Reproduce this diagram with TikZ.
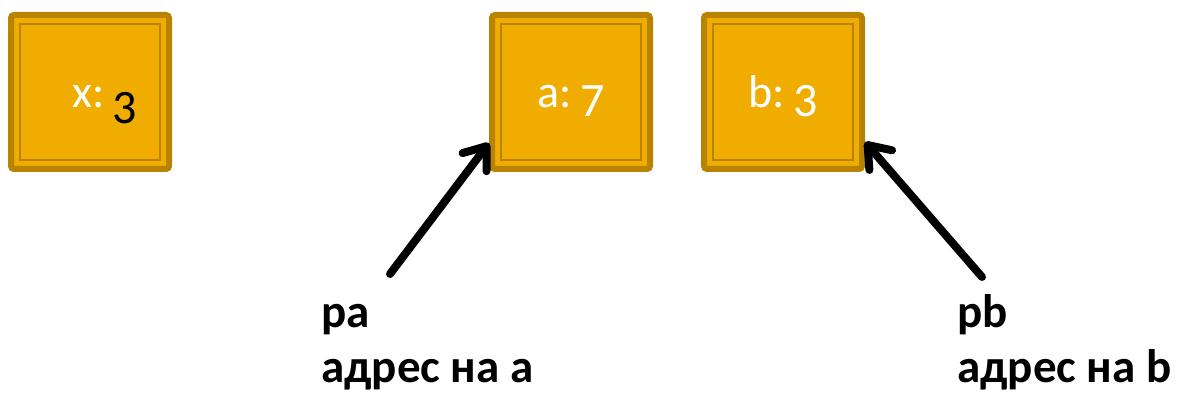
\documentclass[tikz,border=0pt]{standalone}
\usepackage{fontspec}
\setmainfont{Carlito}
\usetikzlibrary{arrows.meta}
\definecolor{cellfill}{RGB}{240,173,0}
\definecolor{cellline}{RGB}{184,131,0}
\begin{document}
\begin{tikzpicture}[x=1pt,y=1pt,
    cell/.style={draw=cellline,fill=cellfill,line width=6pt,rounded corners=3pt,
      minimum width=158pt,minimum height=154pt,inner sep=0pt,
      text height=32pt,text depth=0pt,text=white,font=\fontsize{46}{46}\selectfont,
      path picture={\draw[cellline,line width=1.2pt,sharp corners]
        ([shift={(9pt,-9pt)}]path picture bounding box.north west) rectangle
        ([shift={(-9pt,9pt)}]path picture bounding box.south east);}},
    pointer/.style={line width=8pt,line cap=round,-{Straight Barb[length=20pt,width=30pt,round]}},
    addr/.style={font=\bfseries\fontsize{47}{55}\selectfont,align=left,inner sep=0pt,anchor=north west}]
  \useasboundingbox (0,0) rectangle (1181,395);
  \node[cell] (x) at (90,303) {\hspace{30pt}x:\hspace{8pt}\raisebox{-16pt}{\color{black}\fontsize{48}{48}\selectfont 3}};
  \node[cell] (a) at (571,303) {a:\hspace{8pt}\raisebox{-9pt}{\fontsize{48}{48}\selectfont 7}};
  \node[cell] (b) at (783,303) {b:\hspace{8pt}\raisebox{-9pt}{\fontsize{48}{48}\selectfont 3}};
  \node[addr] (pa) at (321,106) {\strut pa\\адрес на a};
  \node[addr] (pb) at (957,106) {\strut pb\\адрес на b};
  \coordinate (pa tail) at (390,121);
  \coordinate (pb tail) at (982,118);
  \draw[pointer] (pa tail) -- ([yshift=29pt]a.south west);
  \draw[pointer] (pb tail) -- ([yshift=30pt]b.south east);
\end{tikzpicture}
\end{document}
